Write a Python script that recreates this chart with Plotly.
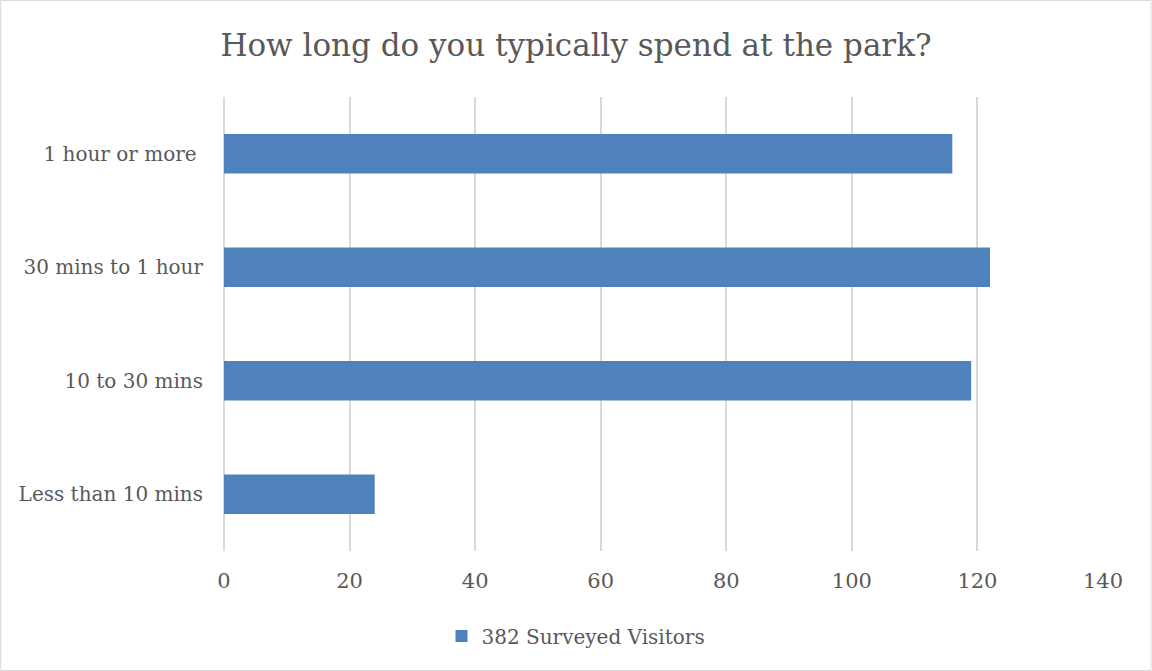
import plotly.graph_objects as go

# Survey responses: time spent at the park
categories = ["Less than 10 mins", "10 to 30 mins", "30 mins to 1 hour", "1 hour or more\u00a0"]
visitors = [24, 119, 122, 116]
series_name = "382 Surveyed Visitors"
x_ticks = [0, 20, 40, 60, 80, 100, 120, 140]

W, H = 1152, 671
ML, MR, MT, MB = 224, 48.5, 97, 120
PW, PH = W - ML - MR, H - MT - MB

FONT = "DejaVu Serif"
GREY = "#595959"

fig = go.Figure(
    go.Bar(
        y=categories,
        x=visitors,
        orientation="h",
        name=series_name,
        marker=dict(color="#4f81bd", line=dict(width=0)),
        showlegend=True,
    )
)

# Light outer frame around the whole chart
fig.add_shape(
    type="rect",
    xref="paper", yref="paper",
    x0=(0.5 - ML) / PW, x1=(W - 0.5 - ML) / PW,
    y0=-(MB - 0.5) / PH,
    y1=1 + (MT - 0.5) / PH,
    line=dict(color="#d9d9d9", width=1),
    layer="below",
)

fig.update_layout(
    width=W, height=H,
    margin=dict(l=ML, r=MR, t=MT, b=MB),
    paper_bgcolor="white",
    plot_bgcolor="white",
    bargap=0.65,
    font=dict(family=FONT, color=GREY),
    title=dict(
        text="How long do you typically spend at the park?",
        font=dict(family=FONT, size=31, color=GREY),
        x=0.5, xanchor="center", xref="container",
        y=1 - 45 / H, yanchor="middle", yref="container",
    ),
    xaxis=dict(
        range=[0, 140],
        tickvals=x_ticks,
        showgrid=True,
        gridcolor="#d9d9d9",
        gridwidth=1.5,
        zeroline=True,
        zerolinecolor="#d9d9d9",
        zerolinewidth=1.5,
        showline=False,
        ticks="outside",
        ticklen=11,
        tickcolor="rgba(0,0,0,0)",
        tickfont=dict(family=FONT, size=21, color=GREY),
        fixedrange=True,
    ),
    yaxis=dict(
        categoryorder="array",
        categoryarray=categories,
        showgrid=False,
        showline=False,
        ticks="outside",
        ticklen=16,
        tickcolor="rgba(0,0,0,0)",
        tickfont=dict(family=FONT, size=20, color=GREY),
        fixedrange=True,
    ),
    legend=dict(
        orientation="h",
        xref="container", yref="container",
        x=0.5, xanchor="center",
        y=1 - 636 / H, yanchor="middle",
        font=dict(family=FONT, size=20, color=GREY),
        itemwidth=30,
    ),
)

fig.write_html("out.html")
